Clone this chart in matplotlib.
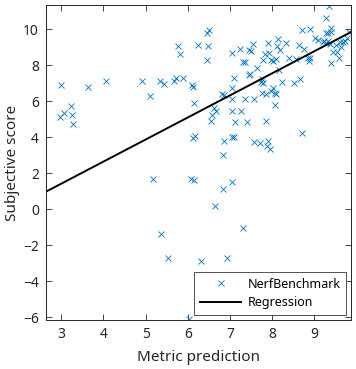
import numpy as np
import matplotlib
matplotlib.use("Agg")
import matplotlib.pyplot as plt

plt.rcParams['font.family'] = ['Noto Sans', 'DejaVu Sans']

# metric prediction (x) and subjective score (y) for NerfBenchmark
metric = [2.99, 3.07, 3.23, 3.25, 2.97, 3.29, 3.63, 4.06, 4.91, 5.10,
          5.35, 5.44, 5.67, 5.73, 5.88, 5.78, 5.81, 6.10, 6.12, 6.15,
          6.25, 6.13, 6.17, 5.18, 6.07, 6.15, 5.36, 5.52, 6.04, 6.31,
          6.84, 7.06, 6.64, 7.30, 6.92,
          6.45, 6.50, 6.48, 6.45, 7.05, 7.25, 7.45, 7.49, 7.54, 7.32,
          7.36, 7.10, 7.06, 6.81, 6.63, 6.67, 6.57, 6.55, 7.05, 7.27,
          7.11, 7.41, 7.06, 7.35, 7.57, 7.45, 7.47, 7.65, 7.79, 7.91,
          7.92, 7.84, 7.97, 8.01, 8.09, 8.13, 8.11, 8.19, 8.32, 8.16,
          7.76, 7.74, 7.79, 8.24, 8.01, 7.77, 7.85, 7.97, 8.07, 8.10,
          8.07, 7.85, 7.91, 7.89, 7.96, 7.58, 7.71, 7.06, 7.10, 6.87,
          6.84, 8.39, 8.57, 8.63, 8.76, 8.71, 8.91, 8.84, 8.90, 8.87,
          9.02, 9.09, 9.24, 9.28, 9.36, 9.39, 9.28, 9.33, 9.40, 9.29,
          9.33, 9.21, 9.37, 9.45, 9.53, 9.59, 9.39, 9.61, 9.69, 9.74,
          9.77, 9.83, 9.64, 9.51, 8.66, 8.52, 8.72, 6.87]
score = [6.89, 5.37, 5.72, 5.22, 5.14, 4.76, 6.81, 7.11, 7.11, 6.31,
         7.11, 6.96, 7.11, 7.31, 7.31, 9.09, 8.63, 6.89, 6.79, 5.89,
         9.13, 3.98, 4.07, 1.66, 1.66, 1.62, -1.39, -2.71, -6.10, -2.85,
         1.11, 1.51, 0.18, -1.02, -2.72,
         9.78, 9.96, 9.09, 8.29, 8.67, 8.91, 8.85, 8.79, 9.17, 8.18,
         8.20, 7.28, 6.76, 6.39, 5.64, 5.48, 5.24, 4.89, 5.46, 5.46,
         4.85, 4.85, 6.13, 6.13, 6.13, 7.46, 7.52, 7.87, 8.29, 9.22,
         8.67, 8.61, 8.29, 8.24, 8.33, 9.46, 9.09, 8.85, 9.22, 7.74,
         7.24, 7.09, 7.00, 7.06, 6.76, 6.48, 6.39, 6.59, 6.44, 6.39,
         5.78, 4.92, 3.79, 3.53, 3.35, 3.76, 3.67, 4.03, 4.00, 3.81,
         3.00, 8.39, 8.37, 9.13, 8.89, 9.96, 10.02, 8.39, 8.44, 8.26,
         9.50, 9.41, 9.37, 10.64, 11.33, 10.09, 9.78, 9.78, 9.87, 9.22,
         9.35, 9.28, 9.17, 8.76, 8.72, 8.42, 8.11, 9.31, 9.28, 9.35,
         9.50, 9.87, 9.03, 9.13, 7.26, 7.04, 4.22, 6.34]

# fitted regression line
slope = 1.227
intercept = -2.257

xlim = (2.637, 9.88)
ylim = (-6.15, 11.35)
xticks = [3, 4, 5, 6, 7, 8, 9]
yticks = [-6, -4, -2, 0, 2, 4, 6, 8, 10]

gray = '#262626'
fig = plt.figure(figsize=(3.56, 3.69), dpi=100)
ax = fig.add_axes([0.129, 0.133, 0.858, 0.853])

ax.plot(metric, score, 'x', color='#0072BD', markersize=4.8, markeredgewidth=0.6,
        label='NerfBenchmark')
xs = np.array(xlim)
ax.plot(xs, slope * xs + intercept, color='black', linewidth=1.4, label='Regression')

ax.set_xlim(xlim)
ax.set_ylim(ylim)
ax.set_xticks(xticks)
ax.set_yticks(yticks)
ax.tick_params(direction='in', top=True, right=True, length=4, width=0.6,
               colors=gray, labelsize=10, pad=5)
for s in ax.spines.values():
    s.set_color(gray)
    s.set_linewidth(0.7)

ax.set_xlabel('Metric prediction', fontsize=11, color=gray, labelpad=6)
ax.set_ylabel('Subjective score', fontsize=11, color=gray, labelpad=2)

leg = ax.legend(loc='lower right', fontsize=9, frameon=True, fancybox=False,
                edgecolor=gray, borderaxespad=0.4, handlelength=3.3,
                handletextpad=0.5, borderpad=0.45, labelspacing=0.45,
                numpoints=1)
leg.get_frame().set_linewidth(0.7)

fig.savefig('out.png', dpi=100)
